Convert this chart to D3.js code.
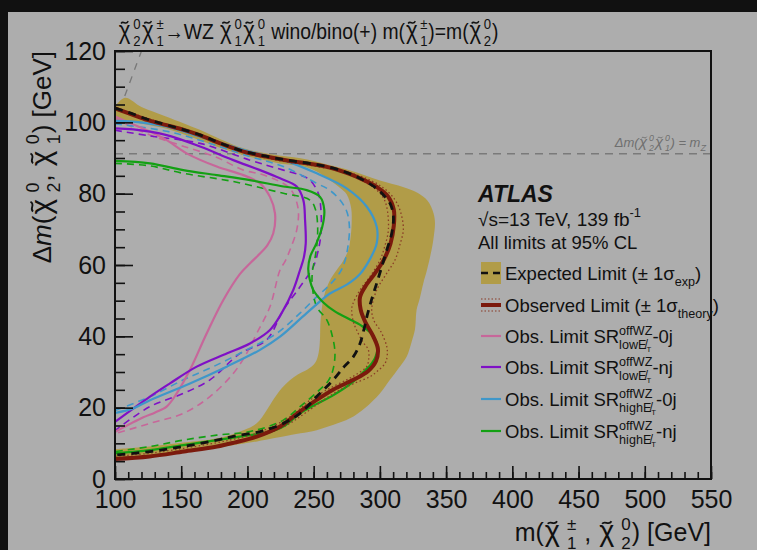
<!DOCTYPE html>
<html>
<head>
<meta charset="utf-8">
<script src="https://cdn.jsdelivr.net/npm/d3@7"></script>
<style>
  html, body { margin: 0; padding: 0; background: #111; }
  svg { display: block; }
  text { font-family: "Liberation Sans", Arial, Helvetica, sans-serif; fill: #111; white-space: pre; }
</style>
</head>
<body>
<svg id="chart" width="757" height="550"></svg>
<script>
// ---- axis ticks ----
const xMajorTicks = [100, 150, 200, 250, 300, 350, 400, 450, 500, 550];
const yMajorTicks = [0, 20, 40, 60, 80, 100, 120];

// ---- contours: [m(chargino/neutralino2), delta m] along each curve ----
const expBandOuter = [[100,104.5],[107.6,106.9],[120,104.3],[139,101.6],[164,97.9],[180,95.2],[197,92.7],[220,90.9],[240,89.9],[260,88.2],[277,86.6],[300,83.7],[318,81.8],[328,80.3],[336,78],[340.5,74.5],[341.6,71.7],[340.5,67.5],[339,64.2],[335.5,58.5],[332.8,54.9],[330,50.5],[327.7,47.4],[326.5,42],[324,38.5],[320.2,34.3],[314,31],[307.6,27.8],[300,24],[289,20],[277.4,17.0],[265,15.2],[252.3,13.7],[240,12.8],[227.1,11.9],[214,11],[201.9,10.2],[176.8,8.8],[151.6,7.7],[126.4,6.3],[101.3,5.5],[100,5.4]];
const expBandInner = [[100,100.3],[105,100.7],[120,99.6],[139,98.2],[164,95.0],[180,92.8],[197,90.8],[215,89.2],[225,88.4],[240,87.8],[252,86.3],[262,83.8],[270,81.6],[275,79.8],[278.3,76],[278.7,72],[277.8,67.5],[276.2,64.2],[272,61],[267.4,58.6],[262,55.5],[258,51.5],[256,47.4],[255,43],[254.8,39.5],[253.8,35.5],[251,32.5],[245,30.6],[238,29.3],[232,27.7],[226,25.5],[220,22.5],[214.5,19.3],[207,15.6],[197,13.7],[177,11.4],[152,10.2],[126,9.1],[101,8.4],[100,8.4]];
const expLimit = [[100,104],[110,102.8],[125,100.8],[139,99.3],[164,96.5],[180,94.1],[197,91.9],[214,90.5],[230,89.4],[245,88.6],[260,87.6],[275,85.9],[288,83.7],[297,81.6],[303,79.5],[308,77],[310.2,73.5],[309,69],[305.2,64.2],[301,59],[297.6,54.9],[293.5,50],[290.5,46],[288,42],[285,38],[280,34.3],[273,31.5],[264.8,27.8],[252.3,23.1],[239.7,18.4],[227.1,15.6],[209.6,13.3],[190,12],[176.8,10.9],[151.6,9.1],[126.4,7.7],[100,6.7]];
const obsLimit = [[100,103.9],[110,102.6],[125,100.6],[139,99.2],[152,97.9],[164,96.4],[180,94.0],[197,91.8],[214,90.4],[230,89.3],[245,88.5],[260,87.5],[275,85.8],[288,83.8],[298,81.8],[306,79.3],[310.5,75.5],[310.5,71],[308,66],[303,61.5],[296,57.5],[289,54],[285,51],[285.5,47.5],[289,44],[295,40],[298.5,36.5],[297,33],[291,30.2],[280,27.8],[265,25.1],[252,22.1],[238,18.5],[225,14.8],[207,11.9],[190,10.2],[177,9.1],[152,7.7],[126,6.3],[100,5.6]];
const obsTheoryUp = [[100,104.1],[139,99.4],[164,96.6],[197,92],[225,89.6],[250,88.2],[275,86.1],[290,84.2],[302,81.8],[311,78.5],[315.5,75],[317.7,70],[315,65.5],[311.4,61.4],[304,57],[297.6,53.0],[293.8,47.4],[296,44],[300.1,41.8],[305.2,37.1],[305.5,34.5],[303.9,32.4],[298,30.2],[292.5,28.7],[280,26.7],[269.9,25.0],[257.3,22.1],[244,18.6],[231,15.4],[214,12.6],[190,10.4],[177,9.3],[152,7.9],[126,6.5],[100,5.8]];
const obsTheoryDown = [[100,103.6],[139,99.0],[164,96.2],[197,91.6],[225,89.2],[250,87.8],[270,86.2],[285,84.0],[295,81.8],[302,79.2],[305.1,76.4],[306.4,69.8],[303.5,65],[300.1,61.4],[293,57],[285.0,53.0],[279.5,49],[278.7,47.4],[280,44],[282.4,41.8],[287,38.5],[291.3,36.2],[291.5,33.5],[290.0,31.5],[283,29.5],[274.9,27.8],[259.9,25.0],[247.2,22.1],[235,18.2],[222,15.3],[205,12.6],[190,11.2],[177,10.2],[152,8.6],[126,7.2],[100,6.4]];

const lowMet0jObs = [[100,101.6],[110,100],[126.4,97.4],[139,95.0],[154.1,91.3],[176.8,87.6],[196.9,85.2],[209.5,82.9],[217.0,79.1],[220.8,74.5],[219.5,68.9],[215,65.5],[209.5,63.2],[202,60.5],[194.4,57.5],[181.8,50.2],[169.2,40.8],[156.6,30.6],[146.6,24.0],[139.0,20.3],[130,18.6],[121.4,17.3],[100,13.2]];
const lowMet0jExp = [[100,101.0],[126,96.5],[150,93.5],[176,90.3],[197,86.6],[210,85.5],[222.1,83.8],[230,82.2],[234.6,80.1],[238.4,75.4],[237.2,69.8],[232.1,64.2],[228.4,61],[224.6,58.6],[217.0,48.3],[207.0,40.8],[199.4,35.2],[189.3,29.6],[171.7,23.1],[151.6,18.4],[126.4,15.6],[100,12.7]];
const lowMetNjObs = [[100,98.3],[113.8,98.0],[139,96.4],[164.2,93.2],[189.3,89.4],[209.5,86.6],[224.6,84.3],[237.2,82.0],[242.2,78.2],[243.5,72.6],[244,66],[242.5,62],[239.7,58.6],[234.6,53.0],[225.8,46.5],[217.0,41.8],[201.9,38.0],[184.3,35.2],[161.7,31.5],[141.5,26.8],[126.4,23.1],[100,16.0]];
const lowMetNjExp = [[100,97.8],[126,96.2],[164.2,94.1],[201.9,89.4],[227.1,86.6],[240,85.2],[247.2,83.8],[253.5,80.1],[255.5,75.4],[255.5,68.9],[253.5,64.2],[249.7,59.5],[239.7,53.9],[227.1,47.4],[214.5,39.0],[194.4,35.2],[171.7,27.8],[151.6,24.0],[126.4,20.3],[100,13.6]];
const highMet0jObs = [[100,100.4],[113.8,100.2],[139,98.8],[164.2,96.0],[201.9,91.8],[227.1,89.4],[252.3,85.7],[274.9,81.5],[290.0,76.4],[297.6,70.7],[297.6,66.1],[293,62],[285,57.5],[275,54.5],[262.3,52.0],[244.7,46.5],[224.6,39.9],[209.5,36.2],[184.3,31.5],[156.6,26.8],[126.4,22.1],[113.8,19.8],[100,18.5]];
const highMet0jExp = [[100,99.6],[139,97.5],[164,95],[201.9,90.4],[227.1,87.6],[252.3,82.9],[262,81],[269.9,78.2],[275,75],[277,70.7],[276,65.5],[273.5,61],[270,58],[262.3,54.5],[252,51],[239.7,46.5],[222,40.8],[199.4,36.2],[174.2,31.5],[151.6,27.8],[126.4,23.1],[100,19.2]];
const highMetNjObs = [[100,89.2],[126.4,88.5],[151.6,86.6],[176.8,85.2],[201.9,83.8],[227.1,82.0],[244.7,81.0],[254.8,79.1],[258,75.5],[256.5,70.7],[252,66],[247.5,62.5],[245.9,59],[247,56],[249.7,53.0],[257.3,49.5],[266,47],[276,45],[286,43],[293,41],[297.6,38.2],[297.6,35.2],[294,32.5],[289,30.5],[279,27],[264,23.3],[252,21],[239.7,18.4],[227.1,14.7],[215,13],[201.9,12.3],[176.8,10.9],[151.6,9.5],[126.4,8.1],[100,7.2]];
const highMetNjExp = [[100,88.5],[126,87.8],[151.6,85.7],[189.3,83.4],[227.1,80.1],[247.2,78.2],[251.5,75.4],[253,70.7],[252.5,66],[251,62],[249,58],[249,54],[252.3,48.3],[259.9,44.6],[264.2,39.9],[266.1,35.2],[264.5,30.5],[261,27.5],[253,24.5],[239.7,20.3],[227.1,16.5],[201.9,13.3],[176.8,12.3],[151.6,10.9],[126.4,9.1],[100,7.7]];

// reference lines
const mZ = 91.19;
const kinematicEdge = [[100,100],[120,120]];

// ---- layout ----
const svg = d3.select("#chart");
const W = 757, H = 550;
const plot = { left: 115, right: 711, top: 51, bottom: 479 };

svg.append("rect").attr("x", 8).attr("y", 12).attr("width", W - 8).attr("height", H - 12).attr("fill", "#adadad");

const x = d3.scaleLinear().domain([100, 550]).range([plot.left, plot.right]);
const y = d3.scaleLinear().domain([0, 120]).range([plot.bottom, plot.top]);

svg.append("clipPath").attr("id", "plotClip").append("rect")
  .attr("x", plot.left).attr("y", plot.top)
  .attr("width", plot.right - plot.left).attr("height", plot.bottom - plot.top);

const gData = svg.append("g").attr("clip-path", "url(#plotClip)");
const smooth = d3.line().x(d => x(d[0])).y(d => y(d[1])).curve(d3.curveCatmullRom.alpha(0.5));
const straight = d3.line().x(d => x(d[0])).y(d => y(d[1]));

// kinematic boundary and m_Z line
gData.append("path").attr("d", straight(kinematicEdge))
  .attr("fill", "none").attr("stroke", "#777").attr("stroke-width", 1.3).attr("stroke-dasharray", "7,7");
gData.append("path").attr("d", straight([[100, mZ], [550, mZ]]))
  .attr("stroke", "#7a7a7a").attr("stroke-width", 1.3).attr("stroke-dasharray", "8,6");

// expected +-1 sigma band
const bandPath = smooth(expBandOuter) + "L" + smooth(expBandInner.slice().reverse()).slice(1) + "Z";
gData.append("path").attr("d", bandPath).attr("fill", "#b19c48").attr("stroke", "none");

const drawCurve = (data, color, width, dash) => {
  const p = gData.append("path").attr("d", smooth(data)).attr("fill", "none")
    .attr("stroke", color).attr("stroke-width", width).attr("stroke-linejoin", "round");
  if (dash) p.attr("stroke-dasharray", dash);
  return p;
};

const cPink = "#c7679a", cPurple = "#7f10c6", cBlue = "#3f97c9", cGreen = "#13a013", cObs = "#7b1a0d";

drawCurve(lowMet0jExp, cPink, 1.6, "7,5");
drawCurve(lowMetNjExp, cPurple, 1.6, "7,5");
drawCurve(highMet0jExp, cBlue, 1.6, "7,5");
drawCurve(highMetNjExp, cGreen, 1.6, "7,5");
drawCurve(lowMet0jObs, cPink, 2.2);
drawCurve(lowMetNjObs, cPurple, 2.2);
drawCurve(highMet0jObs, cBlue, 2.2);
drawCurve(highMetNjObs, cGreen, 2.2);
drawCurve(obsTheoryUp, "#8a3b26", 1.3, "1.5,2.5");
drawCurve(obsTheoryDown, "#8a3b26", 1.3, "1.5,2.5");
drawCurve(obsLimit, cObs, 4);
drawCurve(expLimit, "#111", 2.8, "8,6");

// ---- axes ----
const styleTicks = g => g.selectAll(".tick line").attr("stroke", "#111").attr("stroke-width", 1.6);
const gx = svg.append("g").attr("transform", `translate(0,${plot.bottom})`)
  .call(d3.axisBottom(x).tickValues(d3.range(100, 551, 10)).tickSizeInner(-7).tickSizeOuter(0).tickFormat(""));
styleTicks(gx);
const gx2 = svg.append("g").attr("transform", `translate(0,${plot.bottom})`)
  .call(d3.axisBottom(x).tickValues(xMajorTicks).tickSizeInner(-13).tickSizeOuter(0).tickPadding(8));
styleTicks(gx2);
gx2.selectAll(".tick text").attr("font-size", 25).attr("dy", "0.83em").attr("fill", "#111")
  .style("font-family", "'Liberation Sans', Arial, sans-serif");

const gy = svg.append("g").attr("transform", `translate(${plot.left},0)`)
  .call(d3.axisLeft(y).tickValues(d3.range(0, 121, 5)).tickSizeInner(-10).tickSizeOuter(0).tickFormat(""));
styleTicks(gy);
const gy2 = svg.append("g").attr("transform", `translate(${plot.left},0)`)
  .call(d3.axisLeft(y).tickValues(yMajorTicks).tickSizeInner(-18).tickSizeOuter(0).tickPadding(9));
styleTicks(gy2);
gy2.selectAll(".tick text").attr("font-size", 25).attr("fill", "#111")
  .style("font-family", "'Liberation Sans', Arial, sans-serif");
svg.selectAll(".domain").remove();

// frame
svg.append("rect").attr("x", plot.left).attr("y", plot.top)
  .attr("width", plot.right - plot.left).attr("height", plot.bottom - plot.top)
  .attr("fill", "none").attr("stroke", "#111").attr("stroke-width", 2);

// ---- rich text helper: runs of text with stacked super/subscripts ----
function runs(g, x0, y0, list, size) {
  let cx = x0;
  for (const r of list) {
    const fs = size * (r.f || 1);
    const yy = y0 + (r.dy || 0) * size;
    const fill = r.fill || "#111";
    if (r.chi) {
      // chi glyph with a tilde stroke above it
      const cs = fs * 1.15;
      const t = g.append("text").attr("x", cx + 0.04 * fs).attr("y", yy).attr("font-size", cs).text("\u03C7");
      if (r.it) t.attr("font-style", "italic");
      t.style("fill", fill);
      const w = t.node().getComputedTextLength();
      const tw = w * 0.62, th = 0.05 * fs;
      const a = cx + 0.04 * fs + (w - tw) / 2 + (r.it ? 0.08 * fs : 0), b = yy - 0.74 * fs;
      g.append("path")
        .attr("d", `M${a},${b + th} C${a + tw * 0.3},${b - 2.2 * th} ${a + tw * 0.7},${b + 3.2 * th} ${a + tw},${b - th}`)
        .attr("fill", "none").attr("stroke", fill).attr("stroke-width", Math.max(1, 0.07 * fs));
      cx += 0.04 * fs + w + (r.post || 0.14) * fs;
      continue;
    }
    const t = g.append("text").attr("x", cx).attr("y", yy).attr("font-size", fs).text(r.t);
    if (r.it) t.attr("font-style", "italic");
    if (r.b) t.attr("font-weight", "bold");
    t.style("fill", fill);
    cx += t.node().getComputedTextLength();
  }
  return cx - x0;
}
function rich(g, items, size) {
  let cx = 0;
  for (const it of items) {
    if (it.stack) {
      cx += Math.max(...it.stack.map(l => runs(g, cx, 0, l, size))) + (it.pad || 0) * size;
    } else if (typeof it === "string") {
      cx += runs(g, cx, 0, [{ t: it }], size);
    } else {
      cx += runs(g, cx, 0, [it], size);
    }
  }
  return cx;
}
const sup = (s, o) => Object.assign({ t: s, dy: -0.45, f: 0.68 }, o || {});
const sub = (s, o) => Object.assign({ t: s, dy: 0.33, f: 0.68 }, o || {});
const chi = (a, b, o) => [Object.assign({ chi: true }, o || {}), { stack: [[sup(a, o)], [sub(b, o)]], pad: 0.04 }];

// title
{
  const g = svg.append("g");
  rich(g, [...chi("0", "2"), ...chi("\u00B1", "1"), "\u2192WZ ", ...chi("0", "1"), ...chi("0", "1"),
    " wino/bino(+) m(", ...chi("\u00B1", "1"), ")=m(", ...chi("0", "2"), ")"], 22.5);
  g.attr("transform", "translate(118,39) scale(0.86,1)");
}
// x title (right aligned)
{
  const g = svg.append("g");
  const wide = { post: 0.28 };
  const w = rich(g, ["m(", ...chi("\u00B1", "1", wide), " , ", ...chi("0", "2", wide), ") [GeV]"], 25);
  g.attr("transform", `translate(${plot.right - w},541)`);
}
// y title (rotated, ends at top of axis)
{
  const g = svg.append("g");
  const wide = { post: 0.24 };
  const w = rich(g, ["\u0394", { t: "m", it: true }, "(", ...chi("0", "2", wide), ", ", ...chi("0", "1", wide), ") [GeV]"], 26);
  g.attr("transform", `translate(51,${plot.top + w}) rotate(-90)`);
}
// m_Z annotation
{
  const g = svg.append("g");
  const o = { it: true, fill: "#6f6f6f" };
  const w = rich(g, [{ t: "\u0394m(", it: true, fill: o.fill }, ...chi("0", "2", o), ...chi("0", "1", o),
    { t: ") = m", it: true, fill: o.fill }, { t: "Z", it: true, dy: 0.3, f: 0.7, fill: o.fill }], 13);
  g.attr("transform", `translate(${706 - w},147)`);
}

// ---- ATLAS label and legend ----
{
  const g = svg.append("g").attr("transform", "translate(478,202)");
  rich(g, [{ t: "ATLAS", it: true, b: true }], 23);
  const g2 = svg.append("g").attr("transform", "translate(478,226)");
  rich(g2, ["\u221As=13 TeV, 139 fb", sup("-1")], 19);
  const g3 = svg.append("g").attr("transform", "translate(478,249)");
  rich(g3, ["All limits at 95% CL"], 18.5);
}

const metSub = (s) => [sub(s), sub("E\u0338"), { t: "T", dy: 0.5, f: 0.42 }];
const legendRows = [
  { y: 273, kind: "exp", label: ["Expected Limit (\u00B1 1\u03C3", sub("exp"), ")"] },
  { y: 305, kind: "obs", label: ["Observed Limit (\u00B1 1\u03C3", sub("theory"), ")"] },
  { y: 336, kind: "line", color: cPink, label: ["Obs. Limit SR", { stack: [[sup("offWZ")], metSub("low")] }, "-0j"] },
  { y: 367, kind: "line", color: cPurple, label: ["Obs. Limit SR", { stack: [[sup("offWZ")], metSub("low")] }, "-nj"] },
  { y: 399, kind: "line", color: cBlue, label: ["Obs. Limit SR", { stack: [[sup("offWZ")], metSub("high")] }, "-0j"] },
  { y: 431, kind: "line", color: cGreen, label: ["Obs. Limit SR", { stack: [[sup("offWZ")], metSub("high")] }, "-nj"] }
];
const lx0 = 481, lx1 = 501;
for (const r of legendRows) {
  if (r.kind === "exp") {
    svg.append("rect").attr("x", lx0).attr("y", r.y - 11).attr("width", lx1 - lx0).attr("height", 22).attr("fill", "#b19c48");
    svg.append("line").attr("x1", lx0).attr("x2", lx1).attr("y1", r.y).attr("y2", r.y)
      .attr("stroke", "#111").attr("stroke-width", 2.5).attr("stroke-dasharray", "7,5");
  } else if (r.kind === "obs") {
    for (const dy of [-6, 6]) {
      svg.append("line").attr("x1", lx0).attr("x2", lx1).attr("y1", r.y + dy).attr("y2", r.y + dy)
        .attr("stroke", "#8a3b26").attr("stroke-width", 1.2).attr("stroke-dasharray", "1.5,2");
    }
    svg.append("line").attr("x1", lx0).attr("x2", lx1).attr("y1", r.y).attr("y2", r.y)
      .attr("stroke", cObs).attr("stroke-width", 4);
  } else {
    svg.append("line").attr("x1", lx0).attr("x2", lx1).attr("y1", r.y).attr("y2", r.y)
      .attr("stroke", r.color).attr("stroke-width", 2.2);
  }
  const g = svg.append("g").attr("transform", `translate(505,${r.y + 7})`);
  rich(g, r.label, 18.5);
}
</script>
</body>
</html>
